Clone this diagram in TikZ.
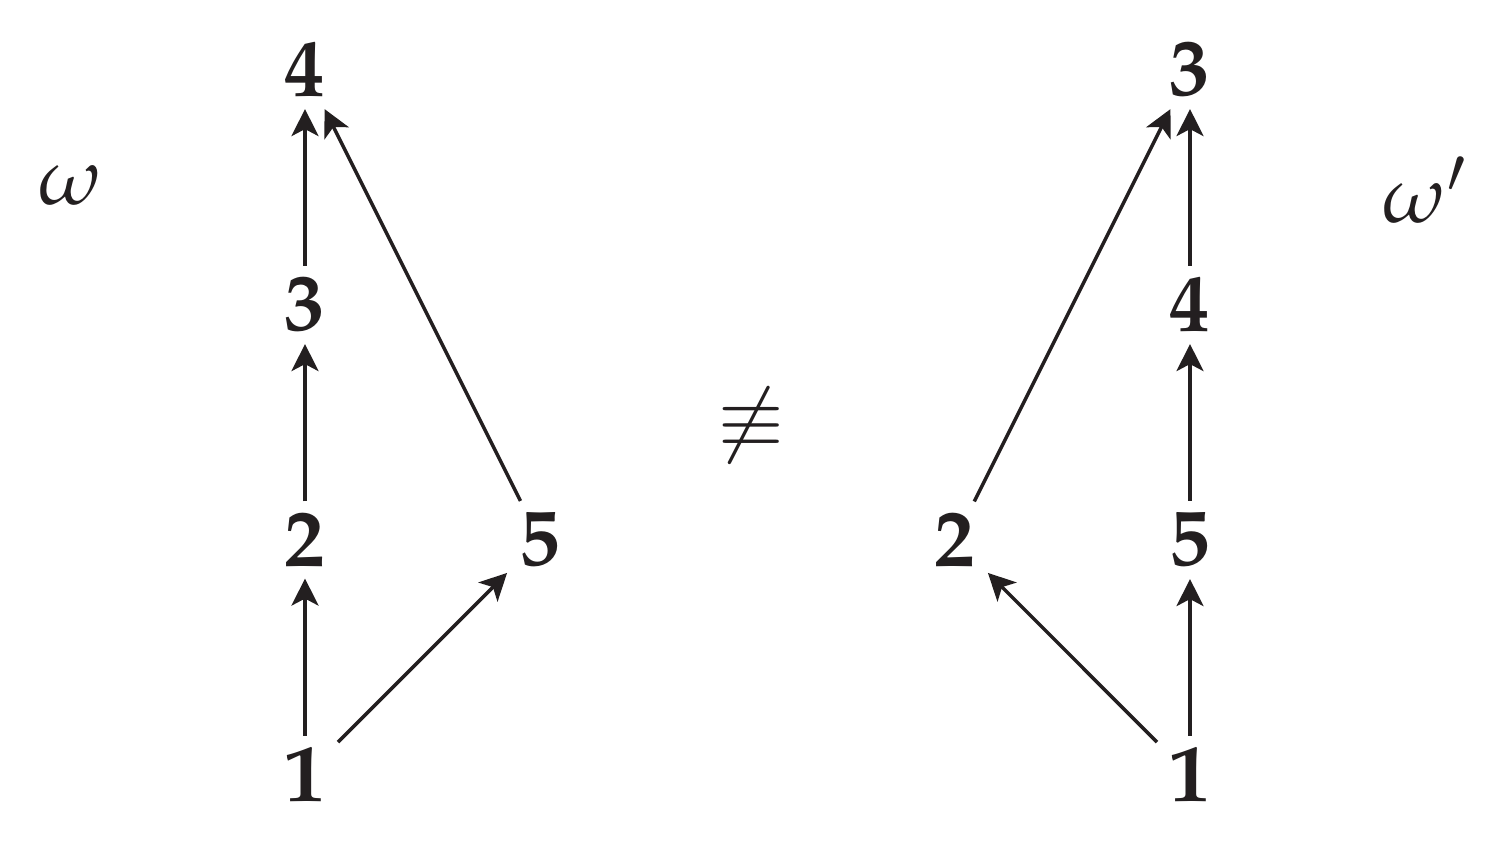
\documentclass[tikz,border=0pt]{standalone}
\usepackage{mathpazo}
\usetikzlibrary{arrows.meta}
\definecolor{inchiostro}{HTML}{231F20}
\tikzset{
  vertice/.style={inner sep=0.11cm, text=inchiostro, font=\fontsize{23}{28}\selectfont},
  freccia/.style={-{Stealth[length=0.27cm,width=0.27cm,inset=0.07cm]}, line width=1pt, draw=inchiostro}
}
\begin{document}
\begin{tikzpicture}
            \useasboundingbox (0,0) rectangle (15.1,-8.45);

            %poset omega a sinistra
            \node[vertice] (l1) at (3.05,-7.75) {$\mathbf{1}$};
            \node[vertice] (l2) at (3.05,-5.40) {$\mathbf{2}$};
            \node[vertice] (l3) at (3.05,-3.05) {$\mathbf{3}$};
            \node[vertice] (l4) at (3.05,-0.70) {$\mathbf{4}$};
            \node[vertice] (l5) at (5.40,-5.40) {$\mathbf{5}$};
            \node[vertice] (om) at (0.70,-1.85) {$\omega$};

            \draw[freccia] (l1) -- (l2);
            \draw[freccia] (l2) -- (l3);
            \draw[freccia] (l3) -- (l4);
            \draw[freccia] (l1) -- (l5);
            \draw[freccia] (l5) -- (l4);

            %segno diverso in mezzo
            \node[vertice] (neq) at (7.50,-4.25) {$\not\equiv$};

            %poset omega' a destra
            \node[vertice] (r1) at (11.90,-7.75) {$\mathbf{1}$};
            \node[vertice] (r5) at (11.90,-5.40) {$\mathbf{5}$};
            \node[vertice] (r4) at (11.90,-3.05) {$\mathbf{4}$};
            \node[vertice] (r3) at (11.90,-0.70) {$\mathbf{3}$};
            \node[vertice] (r2) at (9.55,-5.40) {$\mathbf{2}$};
            \node[vertice] (omp) at (14.25,-1.90) {$\omega'$};

            \draw[freccia] (r1) -- (r5);
            \draw[freccia] (r5) -- (r4);
            \draw[freccia] (r4) -- (r3);
            \draw[freccia] (r1) -- (r2);
            \draw[freccia] (r2) -- (r3);
        \end{tikzpicture}
\end{document}
